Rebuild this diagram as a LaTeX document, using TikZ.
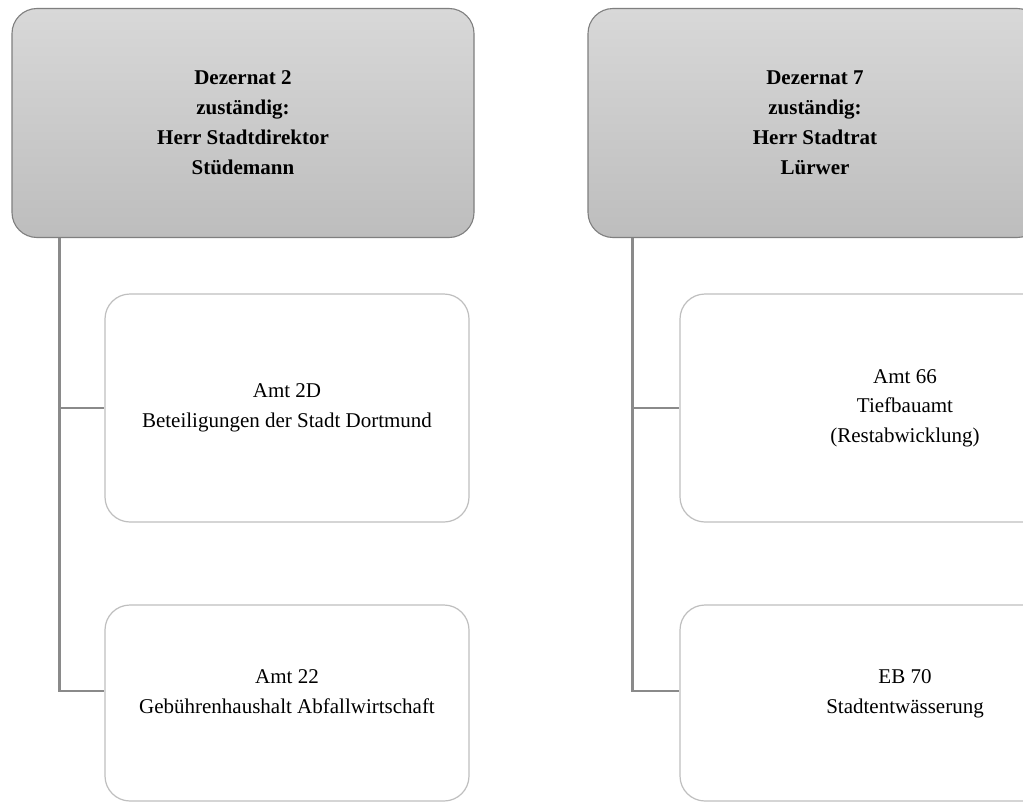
\documentclass[tikz,border=0pt]{standalone}
\usepackage{fontspec}
\setmainfont{Liberation Serif}
\definecolor{topborder}{HTML}{7F7F7F}
\definecolor{toptop}{HTML}{D8D8D8}
\definecolor{topbot}{HTML}{BDBDBD}
\definecolor{childborder}{HTML}{BFBFBF}
\definecolor{connc}{HTML}{8A8A8A}
\tikzset{
  topbox/.style={draw=topborder, line width=1.1pt, rounded corners=25pt,
    top color=toptop, bottom color=topbot, align=center,
    font=\fontsize{21}{30}\selectfont\bfseries,
    minimum height=229pt, inner sep=0pt},
  childbox/.style={draw=childborder, line width=1.2pt, rounded corners=25pt,
    fill=white, align=center, font=\fontsize{21}{29.5}\selectfont,
    inner sep=0pt},
  conn/.style={draw=connc, line width=2.2pt}
}
\begin{document}
\begin{tikzpicture}[x=1pt,y=-1pt]
\useasboundingbox (0,0) rectangle (1023,803);
\clip (0,0) rectangle (1023,803);
\fill[white] (0,0) rectangle (1023,803);
% left column
\node[topbox, minimum width=462pt] (d2) at (243,123)
  {Dezernat 2\\zuständig:\\Herr Stadtdirektor\\Stüdemann};
\node[childbox, minimum width=364pt, minimum height=228pt] (a2d) at (287,408)
  {Amt 2D\\Beteiligungen der Stadt Dortmund};
\node[childbox, minimum width=364pt, minimum height=196pt, text depth=23pt] (a22) at (287,703)
  {Amt 22\\Gebührenhaushalt Abfallwirtschaft};
\coordinate (d2s) at ([xshift=48pt]d2.south west);
\draw[conn] (d2s) |- (a2d.west);
\draw[conn] (d2s) |- ([yshift=12pt]a22.west);
% right column
\node[topbox, minimum width=454pt] (d7) at (815,123)
  {Dezernat 7\\zuständig:\\Herr Stadtrat\\Lürwer};
\node[childbox, minimum width=450pt, minimum height=228pt] (a66) at (905,408)
  {Amt 66\\Tiefbauamt\\(Restabwicklung)};
\node[childbox, minimum width=450pt, minimum height=196pt, text depth=23pt] (eb70) at (905,703)
  {EB 70\\Stadtentwässerung};
\coordinate (d7s) at ([xshift=45pt]d7.south west);
\draw[conn] (d7s) |- (a66.west);
\draw[conn] (d7s) |- ([yshift=12pt]eb70.west);
\end{tikzpicture}
\end{document}
